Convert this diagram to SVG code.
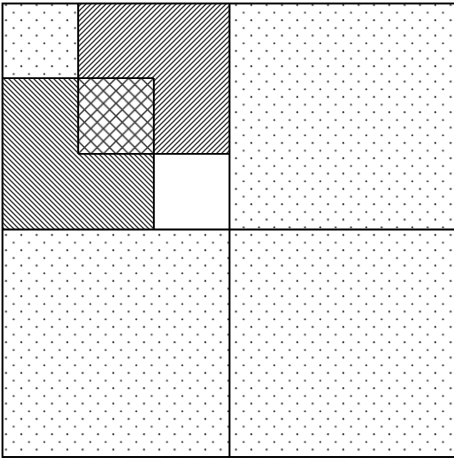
<svg xmlns="http://www.w3.org/2000/svg" width="454" height="459" viewBox="0 0 454 459">
<defs>
<pattern id="dots" patternUnits="userSpaceOnUse" width="15.333" height="15.333" x="0" y="0">
<circle cx="6" cy="5" r="1.05" fill="#333"/>
<circle cx="13.67" cy="12.67" r="1.05" fill="#333"/>
</pattern>
<pattern id="hatchR" patternUnits="userSpaceOnUse" width="5" height="5">
<path d="M-1,6 L6,-1 M-1,1 L1,-1 M4,6 L6,4" stroke="#333" stroke-width="1.3"/>
</pattern>
<pattern id="hatchL" patternUnits="userSpaceOnUse" width="5" height="5">
<path d="M-1,-1 L6,6 M4,-1 L6,1 M-1,4 L1,6" stroke="#333" stroke-width="1.3"/>
</pattern>
<pattern id="cross" patternUnits="userSpaceOnUse" width="12.6" height="12.6" x="78.2" y="78.2">
<path d="M0,0 L12.6,12.6 M12.6,0 L0,12.6" stroke="#333" stroke-width="1.4"/>
</pattern>
</defs>
<style>
.frame{fill:none;stroke:#000;stroke-width:1.9}
.dot{fill:url(#dots)}
</style>
<rect x="0" y="0" width="454" height="459" fill="#fff"/>
<g id="cell-tl-small"><rect x="2.5" y="3.5" width="75.67" height="74.67" class="dot"/></g>
<g id="rect-a"><rect x="78.17" y="3.5" width="151.33" height="150.33" fill="url(#hatchR)"/></g>
<g id="rect-b"><rect x="2.5" y="78.17" width="151.33" height="151.33" fill="url(#hatchL)"/></g>
<g id="overlap"><rect x="78.17" y="78.17" width="75.67" height="75.67" fill="#fff"/><rect x="78.17" y="78.17" width="75.67" height="75.67" fill="url(#cross)"/></g>
<g id="cell-white"><rect x="153.83" y="153.83" width="75.67" height="75.67" fill="#fff"/></g>
<g id="cell-tr"><rect x="229.5" y="3.5" width="227" height="226" class="dot"/></g>
<g id="cell-bl"><rect x="2.5" y="229.5" width="227" height="227.5" class="dot"/></g>
<g id="cell-br"><rect x="229.5" y="229.5" width="227" height="227.5" class="dot"/></g>
<g id="connectors">
<rect x="2.5" y="3.5" width="454" height="453.5" class="frame"/>
<line x1="229.5" y1="3.5" x2="229.5" y2="457" class="frame"/>
<line x1="2.5" y1="229.5" x2="456.5" y2="229.5" class="frame"/>
<line x1="2.5" y1="78.17" x2="153.83" y2="78.17" class="frame"/>
<line x1="78.17" y1="3.5" x2="78.17" y2="153.83" class="frame"/>
<line x1="78.17" y1="153.83" x2="229.5" y2="153.83" class="frame"/>
<line x1="153.83" y1="78.17" x2="153.83" y2="229.5" class="frame"/>
</g>
</svg>
